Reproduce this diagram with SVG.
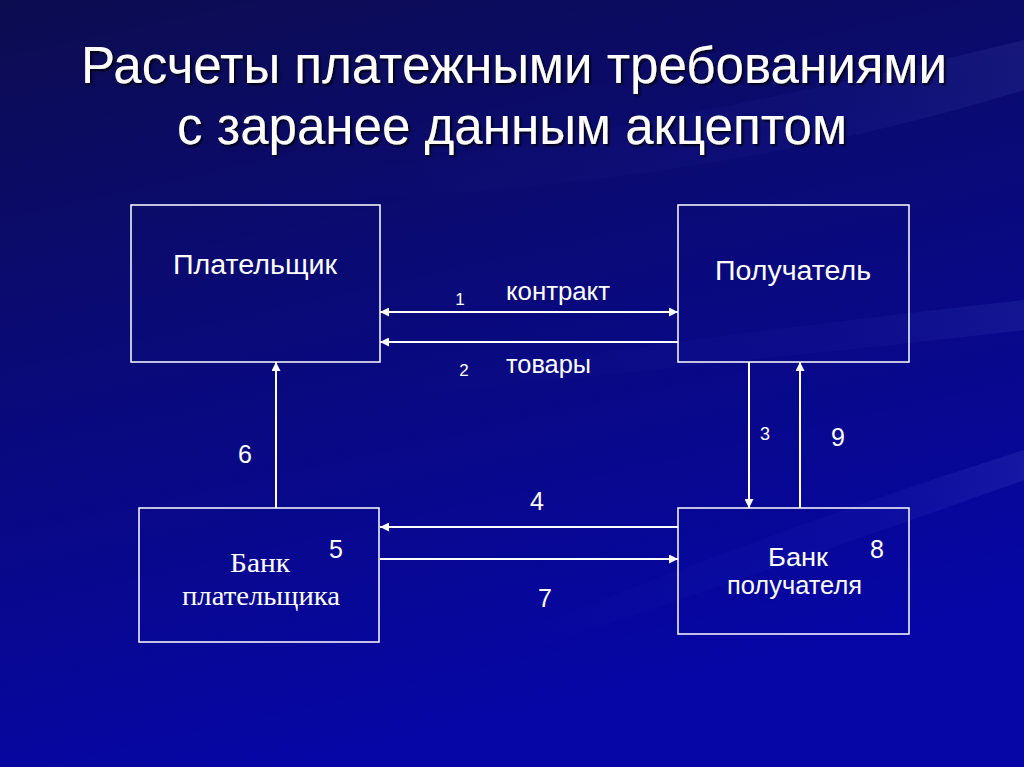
<svg xmlns="http://www.w3.org/2000/svg" width="1024" height="767" viewBox="0 0 1024 767">
<defs>
<linearGradient id="bg" x1="0" y1="0" x2="0.3" y2="1">
<stop offset="0" stop-color="#0c0c50"/>
<stop offset="0.45" stop-color="#0a0a78"/>
<stop offset="1" stop-color="#0606a6"/>
</linearGradient>
<linearGradient id="streak" x1="0" y1="0" x2="1" y2="0">
<stop offset="0" stop-color="#6a7aff" stop-opacity="0"/>
<stop offset="0.7" stop-color="#6a7aff" stop-opacity="0.1"/>
<stop offset="1" stop-color="#9aa8ff" stop-opacity="0.2"/>
</linearGradient>
<marker id="ah" viewBox="0 0 10 10" refX="10" refY="5" markerWidth="9" markerHeight="9" markerUnits="userSpaceOnUse" orient="auto-start-reverse">
<path d="M0,0 L10,5 L0,10 z" fill="#ffffff"/>
</marker>
<filter id="sh" x="-5%" y="-20%" width="110%" height="140%">
<feDropShadow dx="2" dy="2" stdDeviation="0.8" flood-color="#000000" flood-opacity="0.8"/>
</filter>
</defs>
<style>
.box{fill:none;stroke:#ffffff;stroke-width:1.5}
.ln{fill:none;stroke:#ffffff;stroke-width:2}
.t{font-family:"Liberation Sans",Arial,sans-serif;fill:#ffffff}
.s{font-family:"Liberation Serif","Times New Roman",serif;fill:#ffffff}
</style>
<rect x="0" y="0" width="1024" height="767" fill="url(#bg)"/>
<path d="M300,180 Q700,120 1024,40 L1024,90 Q700,190 300,200 z" fill="url(#streak)" opacity="0.4"/>
<path d="M400,380 Q750,330 1024,300 L1024,330 Q760,360 400,395 z" fill="url(#streak)" opacity="0.4"/>
<path d="M500,640 Q800,520 1024,450 L1024,480 Q800,560 500,660 z" fill="url(#streak)" opacity="0.5"/>
<g id="title" filter="url(#sh)">
<text class="t" x="514" y="83" font-size="51" text-anchor="middle" textLength="866" lengthAdjust="spacingAndGlyphs">Расчеты платежными требованиями</text>
<text class="t" x="512" y="144" font-size="51" text-anchor="middle" textLength="670" lengthAdjust="spacingAndGlyphs">с заранее данным акцептом</text>
</g>
<g id="connectors">
<line class="ln" x1="380" y1="312" x2="678" y2="312" marker-start="url(#ah)" marker-end="url(#ah)"/>
<line class="ln" x1="678" y1="342" x2="380" y2="342" marker-end="url(#ah)"/>
<line class="ln" x1="276" y1="508" x2="276" y2="362" marker-end="url(#ah)"/>
<line class="ln" x1="749" y1="362" x2="749" y2="508" marker-end="url(#ah)"/>
<line class="ln" x1="800" y1="508" x2="800" y2="362" marker-end="url(#ah)"/>
<line class="ln" x1="678" y1="527" x2="380" y2="527" marker-end="url(#ah)"/>
<line class="ln" x1="380" y1="559" x2="678" y2="559" marker-end="url(#ah)"/>
<text class="t" x="460" y="305" font-size="17" text-anchor="middle">1</text>
<text class="t" x="506" y="300" font-size="25" textLength="104" lengthAdjust="spacingAndGlyphs">контракт</text>
<text class="t" x="464" y="376" font-size="17" text-anchor="middle">2</text>
<text class="t" x="506" y="373" font-size="25" textLength="85" lengthAdjust="spacingAndGlyphs">товары</text>
<text class="t" x="765" y="440" font-size="18" text-anchor="middle">3</text>
<text class="t" x="838" y="446" font-size="25" text-anchor="middle">9</text>
<text class="t" x="245" y="463" font-size="25" text-anchor="middle">6</text>
<text class="t" x="537" y="510" font-size="25" text-anchor="middle">4</text>
<text class="t" x="545" y="607" font-size="25" text-anchor="middle">7</text>
</g>
<g id="payer">
<rect class="box" x="131" y="205" width="249" height="157"/>
<text class="t" x="173" y="274" font-size="27" textLength="164" lengthAdjust="spacingAndGlyphs">Плательщик</text>
</g>
<g id="recipient">
<rect class="box" x="678" y="205" width="231" height="157"/>
<text class="t" x="715" y="280" font-size="27" textLength="156" lengthAdjust="spacingAndGlyphs">Получатель</text>
</g>
<g id="payer-bank">
<rect class="box" x="139" y="508" width="240" height="134"/>
<text class="s" x="230" y="572" font-size="28" textLength="60" lengthAdjust="spacingAndGlyphs">Банк</text>
<text class="s" x="182" y="605" font-size="28" textLength="158" lengthAdjust="spacingAndGlyphs">плательщика</text>
<text class="t" x="336" y="558" font-size="25" text-anchor="middle">5</text>
</g>
<g id="recipient-bank">
<rect class="box" x="678" y="508" width="231" height="126"/>
<text class="t" x="768" y="566" font-size="25" textLength="60" lengthAdjust="spacingAndGlyphs">Банк</text>
<text class="t" x="727" y="594" font-size="25" textLength="135" lengthAdjust="spacingAndGlyphs">получателя</text>
<text class="t" x="877" y="558" font-size="25" text-anchor="middle">8</text>
</g>
</svg>
